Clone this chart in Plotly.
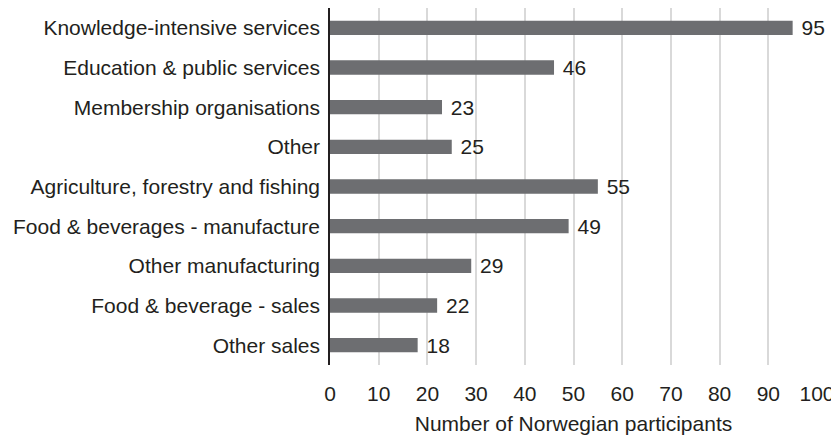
import plotly.graph_objects as go

categories = [
    "Knowledge-intensive services",
    "Education & public services",
    "Membership organisations",
    "Other",
    "Agriculture, forestry and fishing",
    "Food & beverages - manufacture",
    "Other manufacturing",
    "Food & beverage - sales",
    "Other sales",
]
values = [95, 46, 23, 25, 55, 49, 29, 22, 18]
x_ticks = [0, 10, 20, 30, 40, 50, 60, 70, 80, 90, 100]
x_title = "Number of Norwegian participants"

FONT = "Liberation Sans, Arial, Helvetica, sans-serif"
TXT = "#231f20"
FS = 21

fig = go.Figure(
    go.Bar(
        x=values,
        y=categories,
        orientation="h",
        marker=dict(color="#6d6e71", line=dict(width=0)),
        text=[" " + str(v) for v in values],
        textposition="outside",
        constraintext="none",
        textfont=dict(family=FONT, size=FS, color=TXT),
        cliponaxis=False,
        width=0.36,
    )
)

fig.update_layout(
    width=839,
    height=436,
    margin=dict(l=322, r=30, t=0, b=79),
    paper_bgcolor="white",
    plot_bgcolor="white",
    showlegend=False,
    font=dict(family=FONT, size=FS, color=TXT),
)
fig.update_xaxes(
    range=[0, 100],
    tickvals=x_ticks,
    ticktext=[str(t) for t in x_ticks],
    showgrid=True,
    gridcolor="#d9d9d9",
    gridwidth=1.5,
    zeroline=False,
    showline=False,
    ticks="outside",
    ticklen=10,
    tickcolor="rgba(0,0,0,0)",
    tickfont=dict(family=FONT, size=FS, color=TXT),
    ticklabeloverflow="allow",
    title=dict(text=x_title, font=dict(family=FONT, size=FS, color=TXT), standoff=12),
    automargin=False,
)
fig.update_yaxes(
    categoryorder="array",
    categoryarray=categories[::-1],
    showgrid=False,
    zeroline=False,
    showline=True,
    linecolor="#231f20",
    linewidth=1.5,
    ticks="outside",
    ticklen=4,
    tickcolor="rgba(0,0,0,0)",
    tickfont=dict(family=FONT, size=FS, color=TXT),
    automargin=False,
)

fig.write_html("out.html")
